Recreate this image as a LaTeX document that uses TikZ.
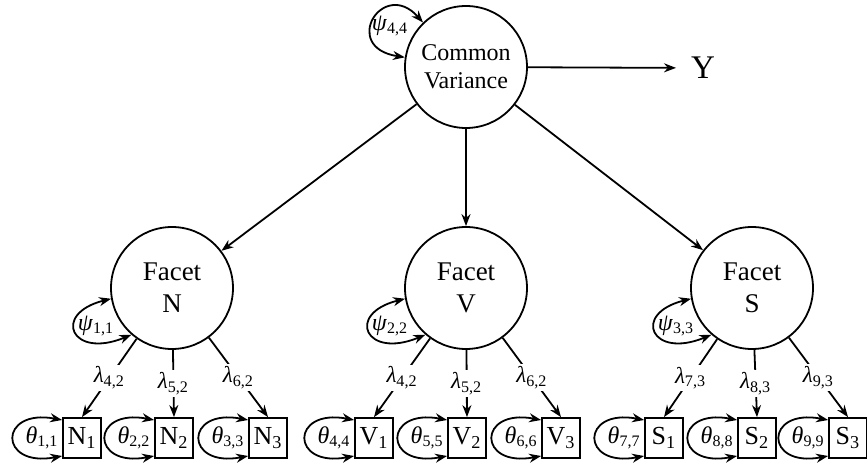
\documentclass[tikz,border=0pt]{standalone}
\usepackage{fontspec}
\setmainfont{Liberation Serif}
\usetikzlibrary{arrows.meta}

\newcommand{\gsub}[2]{\textit{#1}\textsubscript{#2}}

\begin{document}
\begin{tikzpicture}[x=0.5pt, y=-0.5pt, >={Stealth[length=6pt,width=4.5pt]}]
\tikzstyle{every node}=[font=\fontsize{12}{14}\selectfont]
\tikzstyle{factor}=[circle, draw, line width=0.9pt, minimum size=61pt, inner sep=0pt, align=center]
\tikzstyle{facet}=[factor, font=\fontsize{13.5}{16}\selectfont]
\tikzstyle{indicator}=[rectangle, draw, line width=0.9pt, minimum width=19pt, minimum height=20pt, inner sep=1pt, font=\fontsize{13}{14}\selectfont]
\tikzstyle{coef}=[fill=white, inner sep=1pt, font=\fontsize{11.5}{12}\selectfont]
\tikzstyle{every edge}=[draw, ->, line width=0.9pt]
\tikzstyle{var}=[<->, line width=0.9pt]

\useasboundingbox (0,0) rectangle (867,469);

\node[factor] at (466,67) (CV) {Common\\Variance};
\node[font=\fontsize{16.5}{18}\selectfont] at (703,68) (Y) {Y};
\node[facet] at (172,288) (fN) {Facet\\N};
\node[facet] at (466,288) (fV) {Facet\\V};
\node[facet] at (752,288) (fS) {Facet\\S};

\node[indicator] at (82,438) (N1) {N\textsubscript{1}};
\node[indicator] at (174,438) (N2) {N\textsubscript{2}};
\node[indicator] at (268,438) (N3) {N\textsubscript{3}};
\node[indicator] at (374,438) (V1) {V\textsubscript{1}};
\node[indicator] at (467,438) (V2) {V\textsubscript{2}};
\node[indicator] at (561,438) (V3) {V\textsubscript{3}};
\node[indicator] at (664,438) (S1) {S\textsubscript{1}};
\node[indicator] at (757,438) (S2) {S\textsubscript{2}};
\node[indicator] at (848,438) (S3) {S\textsubscript{3}};

% paths from the common factor
\draw (CV) edge (fN) edge (fV) edge (fS) edge[shorten >=4pt] (Y);

% loadings
\draw (fN) edge node[coef] {\gsub{λ}{4,2}} (N1.north)
        edge node[coef] {\gsub{λ}{5,2}} (N2.north)
        edge node[coef] {\gsub{λ}{6,2}} (N3.north);
\draw (fV) edge node[coef] {\gsub{λ}{4,2}} (V1.north)
        edge node[coef] {\gsub{λ}{5,2}} (V2.north)
        edge node[coef] {\gsub{λ}{6,2}} (V3.north);
\draw (fS) edge node[coef] {\gsub{λ}{7,3}} (S1.north)
        edge node[coef] {\gsub{λ}{8,3}} (S2.north)
        edge node[coef] {\gsub{λ}{9,3}} (S3.north);

% factor variances
\draw[var] (CV.134) .. controls +(-40,-45) and +(-65,-10) .. (CV.171);
\node at (390,26) (pCV) {\gsub{ψ}{4,4}};
\draw[var] (fN.190) .. controls +(-60,15) and +(-60,25) .. (fN.229);
\node at (96,326) (pN) {\gsub{ψ}{1,1}};
\draw[var] (fV.190) .. controls +(-60,15) and +(-60,25) .. (fV.229);
\node at (390,326) (pV) {\gsub{ψ}{2,2}};
\draw[var] (fS.190) .. controls +(-60,15) and +(-60,25) .. (fS.229);
\node at (676,326) (pS) {\gsub{ψ}{3,3}};

% error variances
\draw[var] ([yshift=9pt]N1.west) .. controls +(-64,-12) and +(-64,12) .. ([yshift=-9pt]N1.west);
\node at ([xshift=-10pt]N1.west) (tN1) {\gsub{θ}{1,1}};
\draw[var] ([yshift=9pt]N2.west) .. controls +(-64,-12) and +(-64,12) .. ([yshift=-9pt]N2.west);
\node at ([xshift=-10pt]N2.west) (tN2) {\gsub{θ}{2,2}};
\draw[var] ([yshift=9pt]N3.west) .. controls +(-64,-12) and +(-64,12) .. ([yshift=-9pt]N3.west);
\node at ([xshift=-10pt]N3.west) (tN3) {\gsub{θ}{3,3}};
\draw[var] ([yshift=9pt]V1.west) .. controls +(-64,-12) and +(-64,12) .. ([yshift=-9pt]V1.west);
\node at ([xshift=-10pt]V1.west) (tV1) {\gsub{θ}{4,4}};
\draw[var] ([yshift=9pt]V2.west) .. controls +(-64,-12) and +(-64,12) .. ([yshift=-9pt]V2.west);
\node at ([xshift=-10pt]V2.west) (tV2) {\gsub{θ}{5,5}};
\draw[var] ([yshift=9pt]V3.west) .. controls +(-64,-12) and +(-64,12) .. ([yshift=-9pt]V3.west);
\node at ([xshift=-10pt]V3.west) (tV3) {\gsub{θ}{6,6}};
\draw[var] ([yshift=9pt]S1.west) .. controls +(-64,-12) and +(-64,12) .. ([yshift=-9pt]S1.west);
\node at ([xshift=-10pt]S1.west) (tS1) {\gsub{θ}{7,7}};
\draw[var] ([yshift=9pt]S2.west) .. controls +(-64,-12) and +(-64,12) .. ([yshift=-9pt]S2.west);
\node at ([xshift=-10pt]S2.west) (tS2) {\gsub{θ}{8,8}};
\draw[var] ([yshift=9pt]S3.west) .. controls +(-64,-12) and +(-64,12) .. ([yshift=-9pt]S3.west);
\node at ([xshift=-10pt]S3.west) (tS3) {\gsub{θ}{9,9}};
\end{tikzpicture}
\end{document}
